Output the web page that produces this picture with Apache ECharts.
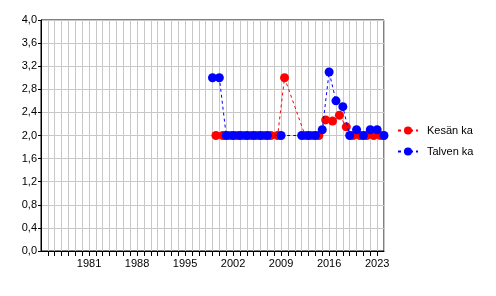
<!DOCTYPE html>
<html>
<head>
<meta charset="utf-8">
<script src="https://cdn.jsdelivr.net/npm/echarts@6/dist/echarts.min.js"></script>
<style>
html,body{margin:0;padding:0;background:#fff;}
#c{width:496px;height:296px;}
</style>
</head>
<body>
<div id="c"></div>
<script>
// Data
const seriesNames = ['Kesän ka', 'Talven ka'];
const kesaYears = [1999, 2000, 2001, 2002, 2003, 2004, 2005, 2006, 2007, 2008, 2009,
                   2012, 2013, 2014, 2015, 2016, 2017, 2018, 2019, 2020, 2021, 2022, 2023];
const kesaValues = [2.0, 2.0, 2.0, 2.0, 2.0, 2.0, 2.0, 2.0, 2.0, 2.0, 3.0,
                    2.0, 2.0, 2.0, 2.27, 2.25, 2.35, 2.15, 2.0, 2.0, 2.0, 2.0, 2.0];
const talviYears = [1999, 2000, 2001, 2002, 2003, 2004, 2005, 2006, 2007, 2009,
                    2012, 2013, 2014, 2015, 2016, 2017, 2018, 2019, 2020, 2021, 2022, 2023, 2024];
const talviValues = [3.0, 3.0, 2.0, 2.0, 2.0, 2.0, 2.0, 2.0, 2.0, 2.0,
                     2.0, 2.0, 2.0, 2.1, 3.1, 2.6, 2.5, 2.0, 2.1, 2.0, 2.1, 2.1, 2.0];
const xLabelYears = [1981, 1988, 1995, 2002, 2009, 2016, 2023];
const yTicks = [0, 0.4, 0.8, 1.2, 1.6, 2.0, 2.4, 2.8, 3.2, 3.6, 4.0];

// summer averages sit at mid-year, winter averages at the start of the year
const SUMMER_SHIFT = 0.5;
const WINTER_SHIFT = 0.0;

const chart = echarts.init(document.getElementById('c'), null, {renderer: 'canvas'});
const font = 'Liberation Sans, Arial, sans-serif';

chart.setOption({
  animation: false,
  backgroundColor: '#ffffff',
  grid: {left: 41, right: 112, top: 20, bottom: 45, show: true,
         borderColor: '#000', borderWidth: 1, backgroundColor: 'transparent'},
  legend: {
    orient: 'vertical', left: 392, top: 120,
    itemWidth: 20, itemHeight: 10, itemGap: 10,
    textStyle: {fontFamily: font, fontSize: 11, color: '#000', padding: [0, 0, 0, 4]},
    data: seriesNames
  },
  xAxis: {
    type: 'value', min: 1974, max: 2024, interval: 1,
    axisLine: {show: true, lineStyle: {color: '#000', width: 1}},
    axisTick: {show: true, length: 5, lineStyle: {color: '#000'}},
    splitLine: {show: true, lineStyle: {color: '#c8c8c8', width: 1}},
    axisLabel: {
      fontFamily: font, fontSize: 11, color: '#000', margin: 7,
      showMinLabel: false, showMaxLabel: false,
      formatter: v => xLabelYears.includes(Math.round(v)) && Math.abs(v - Math.round(v)) < 1e-6 ? String(Math.round(v)) : ''
    }
  },
  yAxis: {
    type: 'value', min: 0, max: 4, interval: 0.4,
    axisLine: {show: true, lineStyle: {color: '#000', width: 1}},
    axisTick: {show: true, length: 3, lineStyle: {color: '#000'}},
    splitLine: {show: true, lineStyle: {color: '#c8c8c8', width: 1}},
    axisLabel: {
      fontFamily: font, fontSize: 11, color: '#000', margin: 4,
      formatter: v => {
        const t = yTicks.find(y => Math.abs(y - v) < 1e-6);
        return t === undefined ? '' : t.toFixed(1).replace('.', ',');
      }
    }
  },
  series: [
    {
      name: seriesNames[0], type: 'line', z: 2, clip: false,
      data: kesaYears.map((y, i) => [y + SUMMER_SHIFT, kesaValues[i]]),
      symbol: 'circle', symbolSize: 9,
      itemStyle: {color: '#ff0000'},
      lineStyle: {color: '#ff0000', width: 1, type: [3, 3]}
    },
    {
      name: seriesNames[1], type: 'line', z: 3, clip: false,
      data: talviYears.map((y, i) => [y + WINTER_SHIFT, talviValues[i]]),
      symbol: 'circle', symbolSize: 9,
      itemStyle: {color: '#0000ff'},
      lineStyle: {color: '#0000ff', width: 1, type: [3, 3]}
    }
  ]
});
</script>
</body>
</html>
